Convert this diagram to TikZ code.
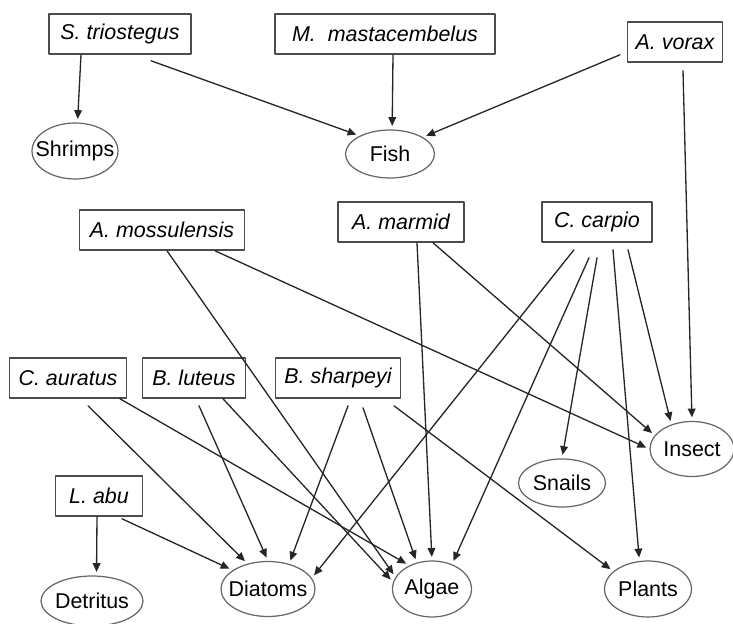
\documentclass[tikz,border=0pt]{standalone}
\usepackage{fontspec}
\setmainfont{Liberation Sans}
\usetikzlibrary{shapes.geometric,arrows.meta}
\newcommand{\food}[1]{\makebox[0pt]{#1}}
\begin{document}
\begin{tikzpicture}[x=0.02cm,y=-0.02cm,>={Triangle[length=5pt,width=4.4pt]},
	font=\fontsize{12.2}{14}\selectfont, line join=round, line cap=round,
	sp/.style={draw=black!70, line width=0.9pt, minimum height=0.8cm, inner sep=0pt, font=\fontsize{12.2}{14}\selectfont\itshape},
	food/.style={ellipse, draw=black!60, line width=0.7pt, inner sep=0pt},
	arr/.style={->, draw=black!85, line width=0.75pt, shorten >=2pt}]
	\useasboundingbox (0,0) rectangle (733,624);
	% fishes (boxes)
	\node[sp, minimum width=2.84cm] (st) at (120,34) {S. triostegus};
	\node[sp, minimum width=4.4cm] (mm) at (385,34) {M.\ \ mastacembelus};
	\node[sp, minimum width=1.9cm] (av) at (675,42) {A. vorax};
	\node[sp, minimum width=3.3cm] (amo) at (162,230) {A. mossulensis};
	\node[sp, minimum width=2.52cm] (ama) at (401,222) {A. marmid};
	\node[sp, minimum width=2.2cm] (cc) at (597,222) {C. carpio};
	\node[sp, minimum width=2.34cm] (ca) at (68,378) {C. auratus};
	\node[sp, minimum width=2.06cm] (bl) at (194,378) {B. luteus};
	\node[sp, minimum width=2.5cm] (bs) at (338,378) {B. sharpeyi};
	\node[sp, minimum width=1.74cm] (la) at (99,496) {L. abu};
	% food items (ellipses)
	\node[food, minimum width=1.72cm, minimum height=1.12cm] (shr) at (75,151) {\food{Shrimps}};
	\node[food, minimum width=1.78cm, minimum height=0.96cm] (fish) at (390,154) {\food{Fish}};
	\node[food, minimum width=1.68cm, minimum height=1.1cm] (ins) at (692,449) {\food{Insect}};
	\node[food, minimum width=1.74cm, minimum height=0.96cm] (sna) at (562,483) {\food{Snails}};
	\node[food, minimum width=2.04cm, minimum height=1.0cm] (det) at (92,601) {\food{Detritus}};
	\node[food, minimum width=1.88cm, minimum height=1.1cm] (dia) at (268,589) {\food{Diatoms}};
	\node[food, minimum width=1.58cm, minimum height=1.12cm] (alg) at (432,589) {\food{Algae}};
	\node[food, minimum width=1.74cm, minimum height=1.12cm] (pla) at (648,589) {\food{Plants}};
	% links
	\draw[arr] ([shift={(-39,0)}]st.south) -- (shr.85);
	\draw[arr] ([shift={(31,6)}]st.south) -- (fish.149);
	\draw[arr] ([shift={(8,0)}]mm.south) -- (fish.85);
	\draw[arr] ([shift={(-55,-8)}]av.south) -- (fish.27);
	\draw[arr] ([shift={(8,8)}]av.south) -- (ins.90);
	\draw[arr] ([shift={(5,0)}]amo.south) -- (alg.162);
	\draw[arr] ([shift={(53,0)}]amo.south) -- (ins.180);
	\draw[arr] ([shift={(16,0)}]ama.south) -- (alg.90);
	\draw[arr] ([shift={(32,0)}]ama.south) -- (ins.160);
	\draw[arr] ([shift={(-23,7)}]cc.south) -- (dia.14);
	\draw[arr] ([shift={(-8,15)}]cc.south) -- (alg.51);
	\draw[arr] ([shift={(0,15)}]cc.south) -- (sna.90);
	\draw[arr] ([shift={(16,7)}]cc.south) -- (pla.107);
	\draw[arr] ([shift={(31,7)}]cc.south) -- (ins.130);
	\draw[arr] ([shift={(20,7)}]ca.south) -- (dia.129);
	\draw[arr] ([shift={(52,0)}]ca.south) -- (alg.134);
	\draw[arr] ([shift={(5,7)}]bl.south) -- (dia.90);
	\draw[arr] ([shift={(29,0)}]bl.south) -- (alg.170);
	\draw[arr] ([shift={(10,7)}]bs.south) -- (dia.50);
	\draw[arr] ([shift={(25,9)}]bs.south) -- (alg.120);
	\draw[arr] ([shift={(56,7)}]bs.south) -- (pla.153);
	\draw[arr] ([shift={(-2,0)}]la.south) -- (det.80);
	\draw[arr] ([shift={(23,2)}]la.south) -- (dia.152);
\end{tikzpicture}
\end{document}
